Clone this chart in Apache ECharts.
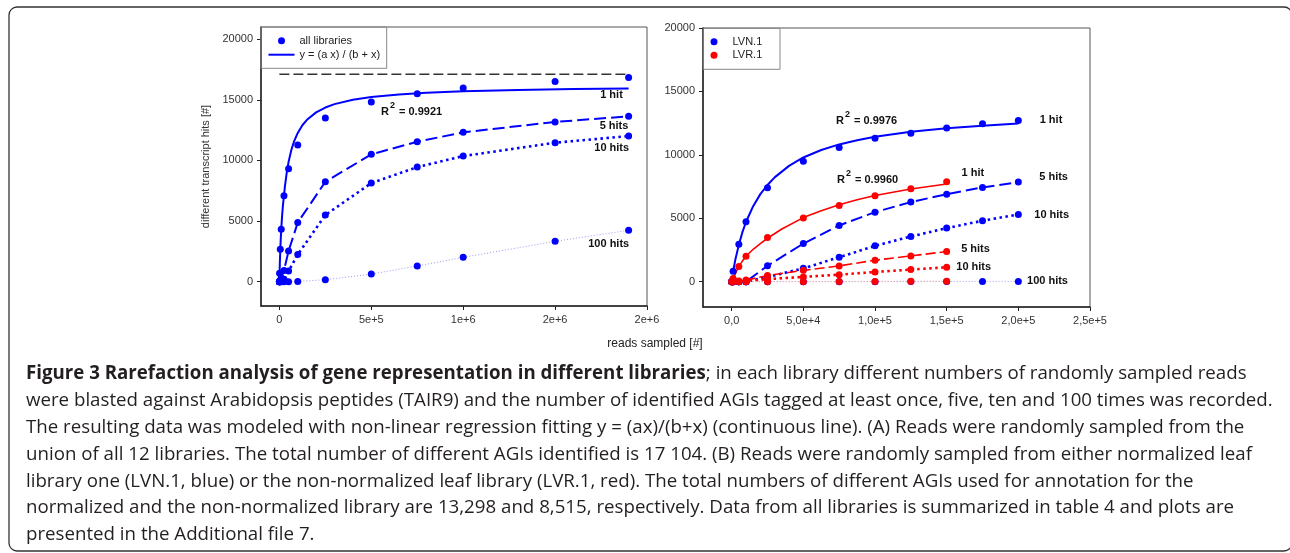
<!DOCTYPE html>
<html>
<head>
<meta charset="utf-8">
<script src="https://cdn.jsdelivr.net/npm/echarts@6/dist/echarts.min.js"></script>
<style>
html,body{margin:0;padding:0;background:#fff;}
#c{width:1290px;height:553px;}
</style>
</head>
<body>
<div id="c"></div>
<script>
// ---------- Data ----------
// (A) union of all libraries
const readsA   = [0, 1000, 5000, 10000, 25000, 50000, 100000, 250000, 500000, 750000, 1000000, 1500000, 1900000];
const hits1A   = [0, 700, 2670, 4330, 7080, 9320, 11280, 13490, 14810, 15500, 15980, 16500, 16830];
const hits5A   = [0, 30, 100, 300, 930, 2530, 4880, 8240, 10500, 11540, 12320, 13170, 13640];
const hits10A  = [0, 0, 30, 80, 200, 880, 2240, 5500, 8130, 9450, 10360, 11460, 12010];
const hits100A = [0, 0, 0, 0, 0, 0, 30, 165, 630, 1300, 2010, 3330, 4240];
const fitXA = [0, 1000, 2500, 5000, 7500, 10000, 15000, 20000, 25000, 30000, 40000, 50000, 65000, 80000, 100000, 125000, 150000, 200000, 250000, 300000, 400000, 500000, 650000, 800000, 1000000, 1300000, 1600000, 1900000];
const fitYA = [0, 650, 1550, 2650, 3550, 4300, 5500, 6400, 7100, 7840, 9000, 9880, 10860, 11570, 12270, 12900, 13350, 13960, 14360, 14640, 15000, 15230, 15440, 15580, 15700, 15810, 15880, 15930];
const totalAGIs = 17104;
const r2A = '0.9921';

// (B) LVN.1 (normalized) and LVR.1 (non-normalized)
const readsN   = [0, 1000, 5000, 10000, 25000, 50000, 75000, 100000, 125000, 150000, 175000, 200000];
const lvn1     = [0, 810, 2950, 4720, 7400, 9490, 10570, 11300, 11700, 12120, 12440, 12700];
const lvn5     = [0, 0, 0, 0, 1250, 3000, 4430, 5480, 6270, 6900, 7430, 7850];
const lvn10    = [0, 0, 0, 0, 360, 1050, 1920, 2820, 3560, 4220, 4800, 5300];
const lvn100   = [0, 0, 0, 0, 0, 0, 0, 0, 10, 10, 20, 20];
const fitXN = [1000, 2500, 5000, 7500, 10000, 15000, 20000, 25000, 30000, 40000, 50000, 62500, 75000, 87500, 100000, 125000, 150000, 175000, 200000];
const fitYN = [800, 1700, 2900, 3900, 4700, 5950, 6900, 7620, 8220, 9130, 9790, 10380, 10820, 11150, 11420, 11810, 12090, 12300, 12460];
const r2N = '0.9976';

const readsR   = [0, 1000, 5000, 10000, 25000, 50000, 75000, 100000, 125000, 150000];
const lvr1     = [0, 250, 1200, 2000, 3480, 5010, 6010, 6770, 7330, 7880];
const lvr5     = [0, 0, 50, 120, 480, 890, 1240, 1690, 2030, 2370];
const lvr10    = [0, 0, 20, 50, 200, 370, 550, 760, 950, 1130];
const lvr100   = [0, 0, 0, 0, 0, 0, 10, 20, 30, 40];
const fitXR = [1000, 2500, 5000, 7500, 10000, 15000, 20000, 25000, 35000, 50000, 62500, 75000, 87500, 100000, 125000, 150000];
const fitYR = [250, 600, 1200, 1620, 2000, 2550, 3000, 3420, 4150, 5050, 5590, 6060, 6450, 6790, 7300, 7700];
const r2R = '0.9960';

// Tick labels
const xTicksA = [0, 500000, 1000000, 1500000, 2000000];
const xLabelsA = ['0', '5e+5', '1e+6', '2e+6', '2e+6'];
const xTicksB = [0, 50000, 100000, 150000, 200000, 250000];
const xLabelsB = ['0,0', '5,0e+4', '1,0e+5', '1,5e+5', '2,0e+5', '2,5e+5'];
const yTicks = [0, 5000, 10000, 15000, 20000];
const yLabels = ['0', '5000', '10000', '15000', '20000'];

const captionLines = [
  '{b|Figure 3 Rarefaction analysis of gene representation in different libraries}; in each library different numbers of randomly sampled reads',
  'were blasted against Arabidopsis peptides (TAIR9) and the number of identified AGIs tagged at least once, five, ten and 100 times was recorded.',
  'The resulting data was modeled with non-linear regression fitting y = (ax)/(b+x) (continuous line). (A) Reads were randomly sampled from the',
  'union of all 12 libraries. The total number of different AGIs identified is 17 104. (B) Reads were randomly sampled from either normalized leaf',
  'library one (LVN.1, blue) or the non-normalized leaf library (LVR.1, red). The total numbers of different AGIs used for annotation for the',
  'normalized and the non-normalized library are 13,298 and 8,515, respectively. Data from all libraries is summarized in table 4 and plots are',
  'presented in the Additional file 7.'
];

// ---------- Helpers ----------
const zip = (xs, ys) => xs.map((x, i) => [x, ys[i]]);
const BLUE = '#0000ff', RED = '#ff0000';
const FONT = 'Liberation Sans, Arial, sans-serif';
const CAPFONT = 'Open Sans, sans-serif';
const CAPSIZE = 18.7;

function xAxisCfg(gi, min, max, ticks, labels) {
  return {
    type: 'value', gridIndex: gi, min: min, max: max,
    axisLine: {show: true, onZero: false, lineStyle: {color: '#222', width: 1.5}},
    axisTick: {show: true, length: 4, customValues: ticks, lineStyle: {color: '#222'}},
    axisLabel: {show: true, customValues: ticks, margin: 8, color: '#333', fontFamily: FONT, fontSize: 11,
      formatter: v => labels[ticks.indexOf(v)] ?? ''},
    splitLine: {show: false}
  };
}
function yAxisCfg(gi, min, max, name) {
  return {
    type: 'value', gridIndex: gi, min: min, max: max,
    name: name || '', nameLocation: 'middle', nameGap: 50,
    nameTextStyle: {color: '#333', fontFamily: FONT, fontSize: 11},
    axisLine: {show: true, onZero: false, lineStyle: {color: '#222', width: 1.5}},
    axisTick: {show: true, length: 4, customValues: yTicks, lineStyle: {color: '#222'}},
    axisLabel: {show: true, customValues: yTicks, margin: 8, color: '#333', fontFamily: FONT, fontSize: 11,
      formatter: v => yLabels[yTicks.indexOf(v)] ?? ''},
    splitLine: {show: false}
  };
}
function pts(name, gi, data, color, z) {
  return {name: name, type: 'scatter', xAxisIndex: gi, yAxisIndex: gi, data: data,
    symbol: 'circle', symbolSize: 7, itemStyle: {color: color, opacity: 1}, z: z || 5, silent: true};
}
function fit(name, gi, data, color, width) {
  return {name: name, type: 'line', xAxisIndex: gi, yAxisIndex: gi, data: data, symbol: 'none',
    smooth: false, lineStyle: {color: color, width: width, type: 'solid'}, itemStyle: {color: color}, z: 3, silent: true};
}
function conn(name, gi, data, color, lw, dash, symbolColor) {
  return {name: name, type: 'line', xAxisIndex: gi, yAxisIndex: gi, data: data,
    symbol: 'circle', symbolSize: 7, showSymbol: true, showAllSymbol: true,
    itemStyle: {color: symbolColor || color, borderWidth: 0, opacity: 1},
    lineStyle: {color: color, width: lw, type: dash}, z: 3, silent: true};
}
function label(text, x, y, align) {
  return {type: 'text', x: x, y: y, silent: true,
    style: {text: text, fontFamily: FONT, fontSize: 11, fontWeight: 'bold', fill: '#111',
      align: align || 'left', verticalAlign: 'middle'}};
}
function r2label(val, x, y) {
  return {type: 'text', x: x, y: y, silent: true,
    style: {text: '{r|R}{s|2}{r| = ' + val + '}', fontFamily: FONT, fontSize: 11, fontWeight: 'bold', fill: '#111',
      align: 'left', verticalAlign: 'middle',
      rich: {r: {fontFamily: FONT, fontSize: 11, fontWeight: 'bold', fill: '#111', verticalAlign: 'bottom', lineHeight: 16},
             s: {fontFamily: FONT, fontSize: 9, fontWeight: 'bold', fill: '#111', verticalAlign: 'top', lineHeight: 16, padding: [0, 1, 0, 1]}}}};
}

const graphics = [
  {type: 'rect', shape: {x: 9, y: 7, width: 1283, height: 544, r: 8}, silent: true,
    style: {fill: 'none', stroke: '#333', lineWidth: 1.3}},
  {type: 'rect', shape: {x: 261, y: 27, width: 125.7, height: 41.3}, silent: true, z: 10,
    style: {fill: 'none', stroke: '#888', lineWidth: 1}},
  {type: 'rect', shape: {x: 703.3, y: 28.3, width: 76.7, height: 41}, silent: true, z: 10,
    style: {fill: 'none', stroke: '#888', lineWidth: 1}},
  {type: 'text', x: 655, y: 344, silent: true,
    style: {text: 'reads sampled [#]', fontFamily: FONT, fontSize: 12, fill: '#222', align: 'center', verticalAlign: 'middle'}},
  label('1 hit', 611.5, 95, 'center'),
  label('5 hits', 614, 126, 'center'),
  label('10 hits', 611.7, 148, 'center'),
  label('100 hits', 608.7, 244, 'center'),
  r2label(r2A, 381, 109),
  r2label(r2N, 836, 118),
  label('1 hit', 1051, 120, 'center'),
  r2label(r2R, 837, 177),
  label('1 hit', 972.8, 173.3, 'center'),
  label('5 hits', 1053.6, 177.3, 'center'),
  label('10 hits', 1051.7, 215.3, 'center'),
  label('5 hits', 975.5, 249, 'center'),
  label('10 hits', 973.7, 266.7, 'center'),
  label('100 hits', 1047.5, 281.3, 'center')
];
captionLines.forEach((t, i) => {
  graphics.push({type: 'text', x: 26, y: 374 + i * 26.8, silent: true,
    style: {text: t, fontFamily: CAPFONT, fontSize: CAPSIZE, fill: '#231f20', align: 'left', verticalAlign: 'middle',
      rich: {b: {fontFamily: CAPFONT, fontSize: CAPSIZE, fontWeight: 'bold', fill: '#231f20'}}}});
});

const chart = echarts.init(document.getElementById('c'), null, {renderer: 'canvas'});
chart.setOption({
  animation: false,
  backgroundColor: '#fff',
  grid: [
    {left: 261, top: 27, width: 386, height: 279, show: true, borderColor: '#555', borderWidth: 1, containLabel: false},
    {left: 703, top: 28, width: 387, height: 279, show: true, borderColor: '#555', borderWidth: 1, containLabel: false}
  ],
  xAxis: [
    xAxisCfg(0, -100000, 2000000, xTicksA, xLabelsA),
    xAxisCfg(1, -20000, 250000, xTicksB, xLabelsB)
  ],
  yAxis: [
    yAxisCfg(0, -2000, 21000, 'different transcript hits [#]'),
    yAxisCfg(1, -2000, 20000)
  ],
  legend: [
    {orient: 'vertical', left: 267.5, top: 34.2, padding: 0, itemGap: 1, itemWidth: 26, itemHeight: 7,
      textStyle: {fontFamily: FONT, fontSize: 11, color: '#222', lineHeight: 13},
      data: [{name: 'all libraries', icon: 'circle'},
             {name: 'y = (a x) / (b + x)', itemStyle: {opacity: 0}}], selectedMode: false},
    {orient: 'vertical', left: 710.5, top: 35.2, padding: 0, itemGap: 0.6, itemWidth: 27, itemHeight: 7,
      textStyle: {fontFamily: FONT, fontSize: 11, color: '#222', lineHeight: 13},
      data: [{name: 'LVN.1', icon: 'circle'}, {name: 'LVR.1', icon: 'circle'}], selectedMode: false}
  ],
  graphic: graphics,
  series: [
    // (A)
    {name: 'total AGIs', type: 'line', xAxisIndex: 0, yAxisIndex: 0,
      data: [[readsA[0], totalAGIs], [readsA[readsA.length - 1], totalAGIs]], symbol: 'none',
      lineStyle: {color: '#333', width: 1.3, type: [10, 4]}, z: 2, silent: true},
    fit('y = (a x) / (b + x)', 0, zip(fitXA, fitYA), BLUE, 2),
    conn('5 hits A', 0, zip(readsA, hits5A), BLUE, 2, [12, 5]),
    conn('10 hits A', 0, zip(readsA, hits10A), BLUE, 2.6, [2.5, 3.5]),
    conn('100 hits A', 0, zip(readsA, hits100A), '#9c9cf2', 1, [1, 2], BLUE),
    pts('all libraries', 0, zip(readsA, hits1A), BLUE, 6),
    // (B)
    fit('LVN fit', 1, zip(fitXN, fitYN), BLUE, 2),
    fit('LVR fit', 1, zip(fitXR, fitYR), RED, 1.6),
    conn('LVN 5 hits', 1, zip(readsN, lvn5), BLUE, 2, [12, 5]),
    conn('LVN 10 hits', 1, zip(readsN, lvn10), BLUE, 2.6, [2.5, 3.5]),
    conn('LVN 100 hits', 1, zip(readsN, lvn100), '#a0a0f0', 1, [1, 2], BLUE),
    conn('LVR 5 hits', 1, zip(readsR, lvr5), RED, 1.6, [10, 4]),
    conn('LVR 10 hits', 1, zip(readsR, lvr10), RED, 2.6, [2.5, 3.5]),
    conn('LVR 100 hits', 1, zip(readsR, lvr100), '#f0a0a0', 1, [1, 2], RED),
    pts('LVN.1', 1, zip(readsN, lvn1), BLUE, 6),
    pts('LVR.1', 1, zip(readsR, lvr1), RED, 6)
  ]
});
</script>
</body>
</html>
